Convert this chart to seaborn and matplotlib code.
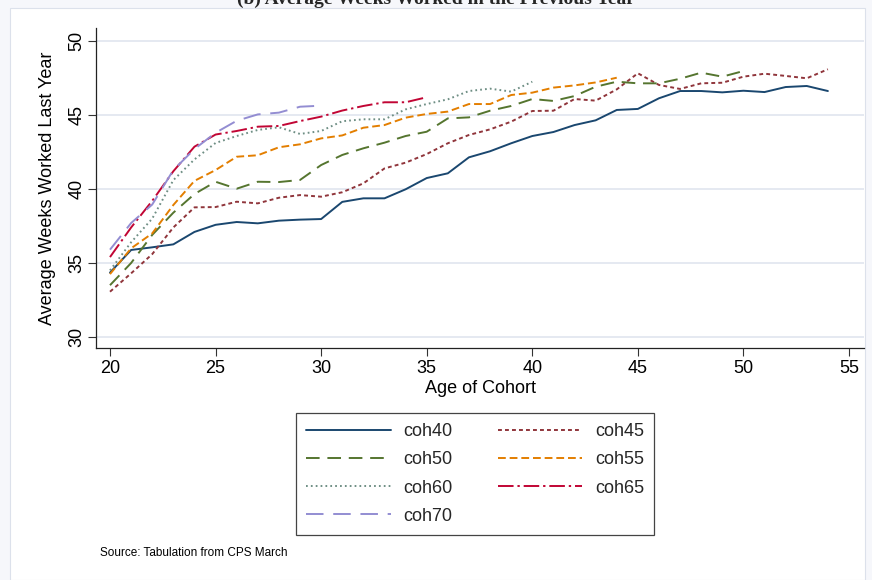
import numpy as np
import pandas as pd
import matplotlib
matplotlib.use("Agg")
import matplotlib.pyplot as plt
from matplotlib.patches import Rectangle
import seaborn as sns

# ---------------- data ----------------
ages_coh40 = list(range(20, 55))
coh40 = [34.35, 35.88, 36.06, 36.26, 37.10, 37.58, 37.77, 37.68, 37.86, 37.93,
         37.97, 39.13, 39.37, 39.37, 39.98, 40.74, 41.06, 42.14, 42.55, 43.09,
         43.58, 43.85, 44.32, 44.64, 45.34, 45.41, 46.13, 46.62, 46.62, 46.53,
         46.64, 46.55, 46.89, 46.96, 46.62]
ages_coh45 = list(range(20, 55))
coh45 = [33.06, 34.30, 35.60, 37.40, 38.76, 38.78, 39.14, 39.03, 39.41, 39.59,
         39.48, 39.78, 40.38, 41.39, 41.78, 42.36, 43.09, 43.65, 44.03, 44.55,
         45.27, 45.29, 46.08, 45.97, 46.73, 47.82, 47.03, 46.76, 47.14, 47.18,
         47.59, 47.79, 47.64, 47.48, 48.09]
ages_coh50 = list(range(20, 51))
coh50 = [33.50, 35.00, 36.90, 38.40, 39.66, 40.49, 40.02, 40.49, 40.47, 40.61,
         41.62, 42.30, 42.75, 43.13, 43.58, 43.87, 44.77, 44.84, 45.29, 45.61,
         46.08, 45.95, 46.28, 46.91, 47.25, 47.14, 47.14, 47.45, 47.86, 47.59,
         47.97]
ages_coh55 = list(range(20, 45))
coh55 = [34.25, 35.99, 37.00, 38.92, 40.55, 41.28, 42.18, 42.28, 42.82, 43.02,
         43.42, 43.62, 44.14, 44.32, 44.82, 45.07, 45.23, 45.74, 45.74, 46.35,
         46.51, 46.85, 47.00, 47.20, 47.52]
ages_coh60 = list(range(20, 41))
coh60 = [34.50, 36.40, 38.00, 40.60, 42.00, 43.11, 43.58, 43.99, 44.17, 43.72,
         43.92, 44.58, 44.71, 44.71, 45.38, 45.74, 46.06, 46.62, 46.78, 46.58,
         47.25]
ages_coh65 = list(range(20, 36))
coh65 = [35.40, 37.40, 39.20, 41.20, 42.86, 43.68, 43.92, 44.21, 44.26, 44.59,
         44.89, 45.30, 45.61, 45.86, 45.86, 46.20]
ages_coh70 = list(range(20, 31))
coh70 = [35.90, 37.70, 38.95, 41.28, 42.70, 43.80, 44.61, 45.04, 45.16, 45.56,
         45.63]

cohorts = ["coh40", "coh45", "coh50", "coh55", "coh60", "coh65", "coh70"]
series = {
    "coh40": (ages_coh40, coh40),
    "coh45": (ages_coh45, coh45),
    "coh50": (ages_coh50, coh50),
    "coh55": (ages_coh55, coh55),
    "coh60": (ages_coh60, coh60),
    "coh65": (ages_coh65, coh65),
    "coh70": (ages_coh70, coh70),
}
x_ticks = [20, 25, 30, 35, 40, 45, 50, 55]
y_ticks = [30, 35, 40, 45, 50]

title = "(b) Average Weeks Worked in the Previous Year"
xlabel = "Age of Cohort"
ylabel = "Average Weeks Worked Last Year"
note = "Source: Tabulation from CPS March"

# ---------------- styling ----------------
palette = {
    "coh40": "#1a476f",
    "coh45": "#90353b",
    "coh50": "#55752f",
    "coh55": "#e37e00",
    "coh60": "#6e8e84",
    "coh65": "#c10534",
    "coh70": "#938dd2",
}
dashes = {
    "coh40": "",
    "coh45": (2.0, 1.6),
    "coh50": (7, 4),
    "coh55": (4, 2),
    "coh60": (0.9, 1.6),
    "coh65": (8, 2, 1.2, 2),
    "coh70": (9, 5),
}

rows = []
for c in cohorts:
    a, v = series[c]
    for ai, vi in zip(a, v):
        rows.append({"age": ai, "weeks": vi, "cohort": c})
df = pd.DataFrame(rows)

sns.set_theme(style="white")
plt.rcParams["font.family"] = ["Liberation Sans", "DejaVu Sans"]

W, H = 872, 580
fig = plt.figure(figsize=(W / 100, H / 100), dpi=100)
fig.patch.set_facecolor("#F6F7FB")
fig.add_artist(Rectangle((10 / W, 0), (865 - 10) / W, (H - 8) / H,
                         transform=fig.transFigure, facecolor="white",
                         edgecolor="#DCE1EB", linewidth=0.8, zorder=0))

ax_l, ax_r, ax_t, ax_b = 96, 864, 28, 348
ax = fig.add_axes([ax_l / W, 1 - ax_b / H, (ax_r - ax_l) / W, (ax_b - ax_t) / H])
ax.set_facecolor("white")

sns.lineplot(data=df, x="age", y="weeks", hue="cohort", style="cohort",
             hue_order=cohorts, style_order=cohorts, palette=palette,
             dashes=dashes, linewidth=1.4, ax=ax, legend=True)

px_per_year = (849 - 110) / 35
px_per_unit = (337 - 41) / 20
ax.set_xlim(20 - (110 - ax_l) / px_per_year, 55 + (ax_r - 849) / px_per_year)
ax.set_ylim(30 - (ax_b - 337) / px_per_unit, 50 + (41 - ax_t) / px_per_unit)

ax.set_xticks(x_ticks)
ax.set_yticks(y_ticks)
ax.grid(axis="y", color="#E3E7F0", linewidth=1.3)
ax.grid(axis="x", visible=False)
ax.set_axisbelow(True)

for s in ["top", "right"]:
    ax.spines[s].set_visible(False)
for s in ["left", "bottom"]:
    ax.spines[s].set_color("#222222")
    ax.spines[s].set_linewidth(0.9)

ax.tick_params(axis="both", which="major", direction="out", length=5.5,
               width=0.8, color="#333333", labelsize=13, labelcolor="black",
               bottom=True, left=True)
ax.tick_params(axis="x", pad=3)
ax.tick_params(axis="y", pad=2)
for lab in ax.get_yticklabels():
    lab.set_rotation(90)
    lab.set_va("center")

ax.set_xlabel(xlabel, fontsize=13, color="black")
ax.set_ylabel(ylabel, fontsize=13, color="black")
ax.xaxis.set_label_coords(0.5, (ax_b - 380) / (ax_b - ax_t))
ax.yaxis.set_label_coords((56 - ax_l) / (ax_r - ax_l), 0.5)

handles, labels = ax.get_legend_handles_labels()
hmap = dict(zip(labels, handles))
order = ["coh40", "coh50", "coh60", "coh70", "coh45", "coh55", "coh65"]
ax.legend([hmap[k] for k in order], order, ncol=2, loc="center",
          bbox_to_anchor=(475 / W, 1 - 474 / H), bbox_transform=fig.transFigure,
          fontsize=13, frameon=True, fancybox=False, edgecolor="#444444",
          framealpha=1, handlelength=4.7, handletextpad=0.7, columnspacing=2.5,
          labelspacing=0.62, borderpad=0.55)
ax.get_legend().get_frame().set_linewidth(0.9)

fig.text(436 / W, 1 - 4 / H, title, ha="center", va="baseline",
         fontsize=14, fontweight="bold", family=["Liberation Serif", "DejaVu Serif"])
fig.text(100 / W, 1 - 553 / H, note, ha="left", va="center", fontsize=8.5,
         color="black")

fig.savefig("out.png", dpi=100, facecolor=fig.get_facecolor())
